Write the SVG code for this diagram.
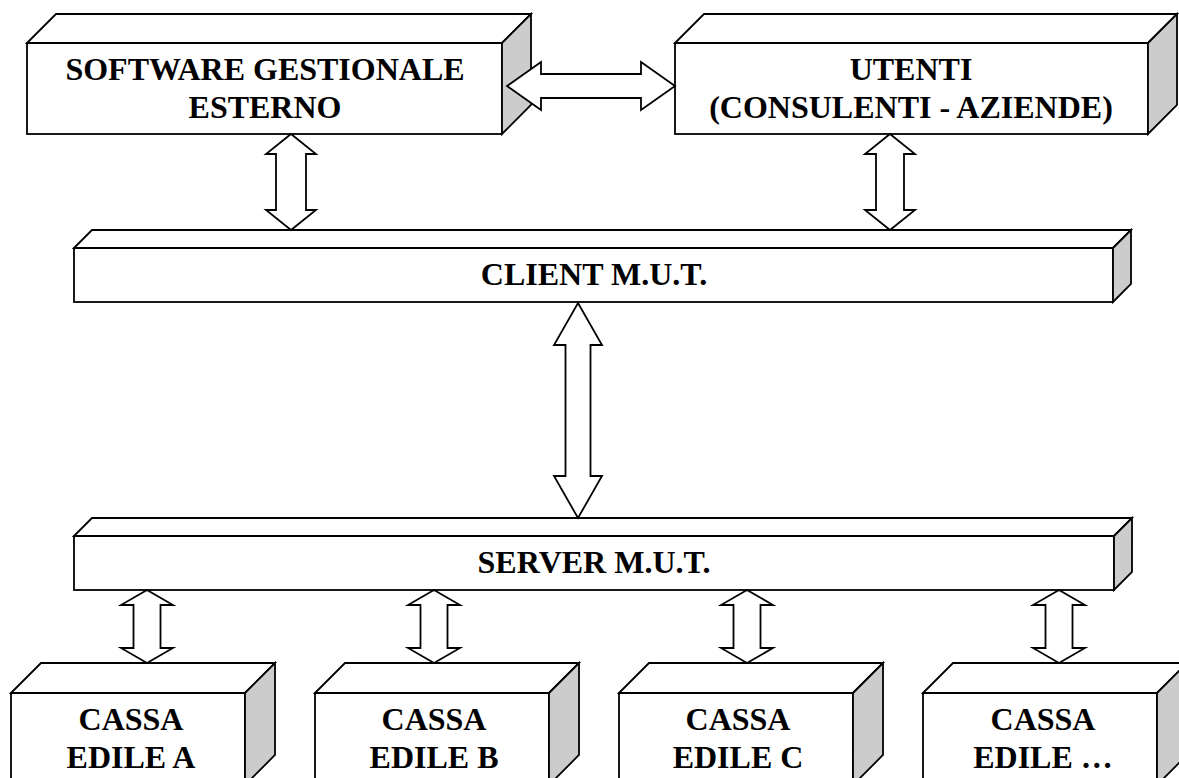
<svg xmlns="http://www.w3.org/2000/svg" width="1179" height="778" viewBox="0 0 1179 778">
<style>
.f{fill:#ffffff;stroke:#000000;stroke-width:1.8;stroke-linejoin:miter}
.s{fill:#cccccc;stroke:#000000;stroke-width:1.8}
.a{fill:#ffffff;stroke:#000000;stroke-width:1.8;stroke-linejoin:miter}
.t{font-family:"Liberation Serif","Times New Roman",serif;font-weight:bold;font-size:32px;fill:#000000;text-anchor:middle}
</style>
<rect width="1179" height="778" fill="#ffffff"/>
<g id="software">
<rect class="f" x="27" y="43" width="475" height="91"/>
<polygon class="f" points="27,43 56,14 531,14 502,43"/>
<polygon class="s" points="502,43 531,14 531,105 502,134"/>
<text class="t" x="265" y="80">SOFTWARE GESTIONALE</text>
<text class="t" x="265" y="118">ESTERNO</text>
</g>
<g id="utenti">
<rect class="f" x="675" y="43" width="473" height="91"/>
<polygon class="f" points="675,43 704,14 1177,14 1148,43"/>
<polygon class="s" points="1148,43 1177,14 1177,105 1148,134"/>
<text class="t" x="911" y="80">UTENTI</text>
<text class="t" x="911" y="118">(CONSULENTI - AZIENDE)</text>
</g>
<g id="client">
<rect class="f" x="74" y="248" width="1039" height="54"/>
<polygon class="f" points="74,248 92,230 1131,230 1113,248"/>
<polygon class="s" points="1113,248 1131,230 1131,284 1113,302"/>
<text class="t" x="594" y="285">CLIENT M.U.T.</text>
</g>
<g id="server">
<rect class="f" x="74" y="536" width="1040" height="54"/>
<polygon class="f" points="74,536 92,518 1132,518 1114,536"/>
<polygon class="s" points="1114,536 1132,518 1132,572 1114,590"/>
<text class="t" x="594" y="573">SERVER M.U.T.</text>
</g>
<g id="cassa-a">
<rect class="f" x="11" y="693" width="234" height="92"/>
<polygon class="f" points="11,693 41,663 275,663 245,693"/>
<polygon class="s" points="245,693 275,663 275,755 245,785"/>
<text class="t" x="131" y="730">CASSA</text>
<text class="t" x="131" y="768">EDILE A</text>
</g>
<g id="cassa-b">
<rect class="f" x="315" y="693" width="234" height="92"/>
<polygon class="f" points="315,693 345,663 579,663 549,693"/>
<polygon class="s" points="549,693 579,663 579,755 549,785"/>
<text class="t" x="434" y="730">CASSA</text>
<text class="t" x="434" y="768">EDILE B</text>
</g>
<g id="cassa-c">
<rect class="f" x="619" y="693" width="234" height="92"/>
<polygon class="f" points="619,693 649,663 883,663 853,693"/>
<polygon class="s" points="853,693 883,663 883,755 853,785"/>
<text class="t" x="738" y="730">CASSA</text>
<text class="t" x="738" y="768">EDILE C</text>
</g>
<g id="cassa-etc">
<rect class="f" x="923" y="693" width="234" height="92"/>
<polygon class="f" points="923,693 953,663 1187,663 1157,693"/>
<polygon class="s" points="1157,693 1187,663 1187,755 1157,785"/>
<text class="t" x="1043" y="730">CASSA</text>
<text class="t" x="1043" y="768">EDILE …</text>
</g>
<g id="connectors">
<polygon class="a" points="507,86 541,62 541,74 641,74 641,62 675,86 641,110 641,98 541,98 541,110"/>
<polygon class="a" points="291,134 316,154 306,154 306,210 316,210 291,230 266,210 276,210 276,154 266,154"/>
<polygon class="a" points="890,134 915,154 904,154 904,210 915,210 890,230 865,210 876,210 876,154 865,154"/>
<polygon class="a" points="578,303 602,345 590.5,345 590.5,476 602,476 578,518 554,476 565.5,476 565.5,345 554,345"/>
<polygon class="a" points="147,590 173,605 160.5,605 160.5,648 173,648 147,663 121,648 133.5,648 133.5,605 121,605"/>
<polygon class="a" points="434,590 460,605 447.5,605 447.5,648 460,648 434,663 408,648 420.5,648 420.5,605 408,605"/>
<polygon class="a" points="747,590 773,605 760.5,605 760.5,648 773,648 747,663 721,648 733.5,648 733.5,605 721,605"/>
<polygon class="a" points="1059,590 1085,605 1072.5,605 1072.5,648 1085,648 1059,663 1033,648 1045.5,648 1045.5,605 1033,605"/>
</g>
</svg>
